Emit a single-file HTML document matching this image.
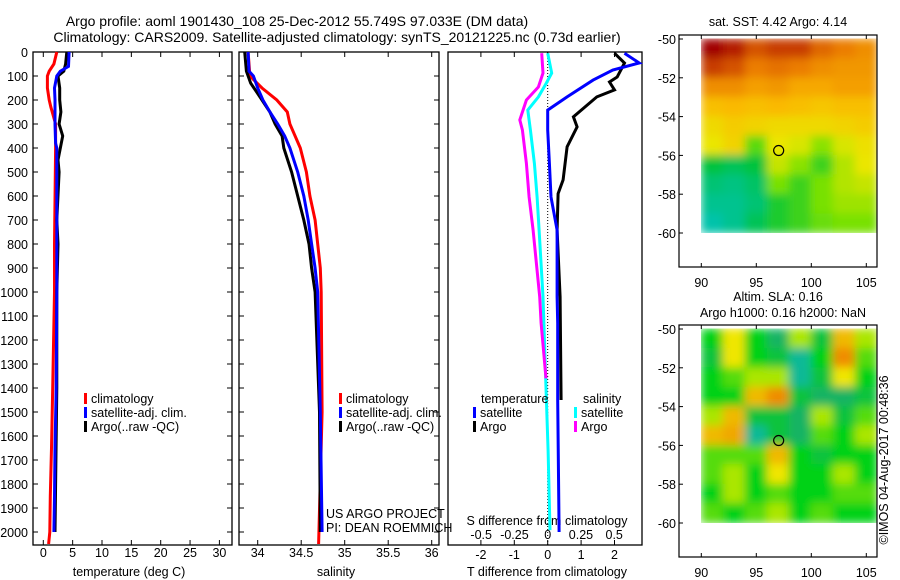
<!DOCTYPE html>
<html><head><meta charset="utf-8"><style>
html,body{margin:0;padding:0;background:#fff}
svg{display:block;font-family:"Liberation Sans",sans-serif;font-size:12.5px}
</style></head><body>
<svg id="s" width="900" height="580" viewBox="0 0 900 580">
<defs>
<filter id="blur" x="0" y="0" width="100%" height="100%"><feGaussianBlur stdDeviation="4.5" edgeMode="duplicate"/></filter>
<clipPath id="c1"><rect x="701" y="35" width="176" height="198"/></clipPath>
<clipPath id="c2"><rect x="701" y="325" width="176" height="198"/></clipPath>
</defs>
<text x="297" y="26" text-anchor="middle" font-size="14">Argo profile: aoml 1901430_108 25-Dec-2012 55.749S 97.033E (DM data)</text>
<text x="337" y="42" text-anchor="middle" font-size="14">Climatology: CARS2009. Satellite-adjusted climatology: synTS_20121225.nc (0.73d earlier)</text>
<g id="g"></g>
</svg>
<script>
// ---------- data ----------
const depthTicks=[0,100,200,300,400,500,600,700,800,900,1000,1100,1200,1300,1400,1500,1600,1700,1800,1900,2000];
const tempTicks=[0,5,10,15,20,25,30];
const salTicks=[34,34.5,35,35.5,36];
const tdTicks=[-2,-1,0,1,2];
const sdTicks=[-0.5,-0.25,0,0.25,0.5];
const tClimDepth=[0,50,80,100,150,200,230,300,400,800,1000,1400,1650,1850,2000,2050];
const tClimVal=[2.3,1.8,1.0,0.7,0.7,1.0,1.3,2.1,2.1,1.9,1.9,1.6,1.4,1.2,1.1,0.9];
const tSatDepth=[0,60,80,100,150,200,300,380,400,1000,1400,1650,1850,2000];
const tSatVal=[4.4,4.3,2.9,2.3,1.9,2.0,2.0,2.1,2.3,2.3,2.2,2.0,1.9,1.8];
const tArgoDepth=[0,50,80,100,150,200,250,300,350,450,500,700,800,1000,1400,2000];
const tArgoVal=[4.0,3.8,3.5,2.5,2.8,2.8,3.0,2.7,3.3,2.5,2.7,2.3,2.5,2.3,2.3,2.0];
const sClimDepth=[0,100,150,200,250,300,400,500,600,700,800,900,1000,1500,2050];
const sClimVal=[33.89,33.91,34.05,34.22,34.34,34.37,34.49,34.56,34.60,34.66,34.69,34.72,34.73,34.74,34.70];
const sSatDepth=[0,80,100,150,200,250,300,350,400,500,600,700,800,900,1000,1500,2000];
const sSatVal=[33.89,33.9,33.95,34.0,34.06,34.14,34.23,34.31,34.37,34.46,34.53,34.58,34.62,34.66,34.69,34.72,34.74];
const sArgoDepth=[0,80,130,200,250,300,350,400,500,600,700,800,900,1000,1500,2000];
const sArgoVal=[33.85,33.87,33.92,34.05,34.14,34.2,34.28,34.3,34.39,34.46,34.53,34.59,34.62,34.66,34.71,34.72];
const dTSatDepth=[5,46,75,117,187,242,325,464,604,742,1020,1130,1450,2000];
const dTSatVal=[2.3,2.74,1.95,1.36,0.58,0.0,0.0,0.05,0.1,0.28,0.28,0.3,0.3,0.34];
const dTArgoDepth=[5,46,104,125,158,187,270,312,395,533,590,742,1020,1450];
const dTArgoVal=[2.0,2.3,2.08,1.85,2.0,1.47,0.77,0.88,0.58,0.46,0.31,0.28,0.37,0.4];
const dSSatDepth=[5,88,129,187,242,325,464,604,742,1020,1450,1660,1992];
const dSSatVal=[0,0.03,-0.01,-0.07,-0.15,-0.13,-0.1,-0.08,-0.065,-0.035,-0.01,0.003,0.017];
const dSArgoDepth=[5,88,146,200,283,325,464,604,742,1020,1130,1360];
const dSArgoVal=[-0.045,-0.035,-0.07,-0.16,-0.21,-0.19,-0.16,-0.14,-0.11,-0.06,-0.05,-0.013];
const lonTicks=[90,95,100,105];
const latTicks=[-50,-52,-54,-56,-58,-60];
const sstGrid=[
[7.2,7.0,6.6,6.8,6.8,6.4,6.2,6.0],
[6.8,6.6,6.2,6.3,6.2,6.0,5.9,5.9],
[6.0,6.0,5.8,5.9,5.7,5.7,5.8,5.8],
[5.4,5.5,5.4,5.5,5.4,5.3,5.4,5.4],
[5.0,5.2,5.1,5.0,5.0,5.0,5.1,5.2],
[4.8,5.1,4.0,4.8,4.7,4.3,4.7,4.9],
[3.4,3.2,3.4,4.6,4.3,3.8,4.5,4.8],
[3.0,2.9,3.1,4.2,3.8,4.2,4.5,4.6],
[2.8,2.8,3.0,3.6,3.8,4.2,4.4,4.4],
[2.6,2.8,3.2,3.6,3.8,4.1,4.2,4.2]];
const slaGrid=[
[0,0.15,0,-0.1,0.1,-0.05,0.2,0.1],
[-0.05,0.15,0,-0.05,-0.15,0,0.25,0.05],
[0,0.05,0.1,0.1,-0.15,-0.05,0.15,0],
[0,0,0.2,0.25,-0.05,-0.1,-0.1,-0.05],
[0.1,0.2,-0.05,-0.05,-0.1,0.1,-0.05,0.05],
[0.2,0.22,-0.15,-0.05,-0.1,0.05,0,0.1],
[0.05,0.05,0.05,0.2,0,-0.05,0,0],
[0.05,0.1,0,0.15,0,0,0.1,0],
[0,0.1,0,0.05,0,0,0.05,0.05],
[0.05,0,0.05,0.1,0,0.05,0,0]];
const floatLon=97.033, floatLat=-55.749;

// ---------- helpers ----------
const NS="http://www.w3.org/2000/svg";
const G=document.getElementById('g');
function el(t,a,p){const e=document.createElementNS(NS,t);for(const k in a)e.setAttribute(k,a[k]);(p||G).appendChild(e);return e;}
function txt(x,y,s,anchor,nm,extra){const e=el('text',Object.assign({x:x,y:y,'text-anchor':anchor||'start'},extra||{}));e.textContent=s;


return e;}
const top0=52,bot0=545;
const yD=d=>52+d*0.24;
const xT=v=>43.3+v*5.87;
const xS=v=>257.7+(v-34)*87;
const xDT=v=>547.7+v*33.4;
const xDS=v=>547.7+v*133;
function frame(x0,x1,nm){const r=el('rect',{x:x0,y:top0,width:x1-x0,height:bot0-top0,fill:'none',stroke:'#000','stroke-width':1.3});

}
function line(depths,vals,fx,col,w,nm){const pts=depths.map((d,i)=>fx(vals[i]).toFixed(1)+','+yD(d).toFixed(1)).join(' ');
const p=el('polyline',{points:pts,fill:'none',stroke:col,'stroke-width':w,'stroke-linejoin':'miter'});

}

const panels=[[33,232,'temperature-panel'],[239,439,'salinity-panel'],[448,642,'difference-panel']];
panels.forEach(p=>{frame(p[0],p[1],p[2]+'-frame');
 depthTicks.forEach(d=>{if(p[2]!=='difference-panel'){el('line',{x1:p[0],x2:p[0]+5,y1:yD(d),y2:yD(d),stroke:'#000'});el('line',{x1:p[1],x2:p[1]-5,y1:yD(d),y2:yD(d),stroke:'#000'});}});
});
depthTicks.forEach(d=>txt(28,yD(d)+5,String(d),'end','depth-tick-label'));
tempTicks.forEach(v=>{const x=xT(v);el('line',{x1:x,x2:x,y1:bot0,y2:bot0-5,stroke:'#000'});el('line',{x1:x,x2:x,y1:top0,y2:top0+5,stroke:'#000'});txt(x,557,String(v),'middle','temperature-tick-label');});
txt(129,576,'temperature (deg C)','middle','x-axis-title-temperature');
salTicks.forEach(v=>{const x=xS(v);el('line',{x1:x,x2:x,y1:bot0,y2:bot0-5,stroke:'#000'});el('line',{x1:x,x2:x,y1:top0,y2:top0+5,stroke:'#000'});txt(x,557,String(v),'middle','salinity-tick-label');});
txt(336,576,'salinity','middle','x-axis-title-salinity');
tdTicks.forEach(v=>{const x=xDT(v);el('line',{x1:x,x2:x,y1:bot0,y2:bot0-5,stroke:'#000'});el('line',{x1:x,x2:x,y1:top0,y2:top0+5,stroke:'#000'});txt(x,559,String(v),'middle','t-diff-tick-label');});
sdTicks.forEach(v=>txt(xDS(v),539,String(v),'middle','s-diff-tick-label'));
txt(547,525,'S difference from climatology','middle','s-diff-axis-title');
txt(547,576,'T difference from climatology','middle','t-diff-axis-title');
el('line',{x1:547.7,x2:547.7,y1:top0,y2:bot0,stroke:'#000','stroke-dasharray':'1,2'});

line(tClimDepth,tClimVal,xT,'#f00',3,'temp-climatology-line');
line(tArgoDepth,tArgoVal,xT,'#000',3,'temp-argo-line');
line(tSatDepth,tSatVal,xT,'#00f',3,'temp-satellite-line');
line(sClimDepth,sClimVal,xS,'#f00',3,'sal-climatology-line');
line(sArgoDepth,sArgoVal,xS,'#000',3,'sal-argo-line');
line(sSatDepth,sSatVal,xS,'#00f',3,'sal-satellite-line');
line(dTArgoDepth,dTArgoVal,xDT,'#000',3,'tdiff-argo-line');
line(dTSatDepth,dTSatVal,xDT,'#00f',3,'tdiff-satellite-line');
line(dSSatDepth,dSSatVal,xDS,'#0ff',3,'sdiff-satellite-line');
line(dSArgoDepth,dSArgoVal,xDS,'#f0f',3,'sdiff-argo-line');

function leg(x,y,col,s,nm){el('rect',{x:x,y:y-10,width:3,height:11,fill:col});txt(x+7,y,s,'start',nm);}
[[84,'temp'],[339,'sal']].forEach(([x,n])=>{leg(x,403,'#f00','climatology',n+'-legend-climatology');leg(x,417,'#00f','satellite-adj. clim.',n+'-legend-satellite');leg(x,431,'#000','Argo(..raw -QC)',n+'-legend-argo');});
txt(481,403,'temperature','start','diff-legend-temperature-header');
leg(473,417,'#00f','satellite','diff-legend-t-satellite');leg(473,431,'#000','Argo','diff-legend-t-argo');
txt(583,403,'salinity','start','diff-legend-salinity-header');
leg(574,417,'#0ff','satellite','diff-legend-s-satellite');leg(574,431,'#f0f','Argo','diff-legend-s-argo');
txt(326,518,'US ARGO PROJECT','start','project-label');
txt(326,532,'PI: DEAN ROEMMICH','start','pi-label');

function interp(stops,v){if(v<=stops[0][0])return stops[0][1];for(let i=1;i<stops.length;i++){if(v<=stops[i][0]){const a=stops[i-1],b=stops[i],t=(v-a[0])/(b[0]-a[0]);return 'rgb('+a[1].map((c,k)=>Math.round(c+(b[1][k]-c)*t)).join(',')+')';}}return 'rgb('+stops[stops.length-1][1].join(',')+')';}
const sstStops=[[2.6,[0,195,170]],[3.4,[0,195,60]],[4.2,[120,225,0]],[4.8,[235,230,0]],[5.5,[250,185,0]],[6.2,[235,125,0]],[6.8,[200,60,0]],[7.2,[160,0,0]]];
const slaStops=[[-0.2,[0,190,200]],[-0.1,[20,180,100]],[0,[0,210,20]],[0.1,[170,230,0]],[0.15,[240,230,0]],[0.25,[240,140,0]]];
function fix(s){return typeof s==='string'?s:'rgb('+s.join(',')+')';}
function map(yTop,grid,stops,nm,clip){
 const fx=lon=>701.3+(lon-90)*11, fy=lat=>yTop+4+(-50-lat)*19.4;
 const g=el('g',{'clip-path':'url(#'+clip+')'});
 
 
 const inner=el('g',{filter:'url(#blur)'},g);
 grid.forEach((row,r)=>row.forEach((v,c)=>{const cell=el('rect',{x:fx(90+c*2)-0.5,y:fy(-50-r)-0.5,width:23,height:20.4,fill:fix(interp(stops,v))},inner);
 
 }));
 const f=el('rect',{x:679,y:yTop,width:198,height:232,fill:'none',stroke:'#000','stroke-width':1.2});
 
 
 lonTicks.forEach(v=>{const x=fx(v);el('line',{x1:x,x2:x,y1:yTop,y2:yTop+4,stroke:'#000'});el('line',{x1:x,x2:x,y1:yTop+232,y2:yTop+228,stroke:'#000'});txt(x,yTop+252,String(v),'middle',nm+'-lon-label');});
 latTicks.forEach(v=>{const y=fy(v);el('line',{x1:679,x2:683,y1:y,y2:y,stroke:'#000'});txt(676,y+5,String(v),'end',nm+'-lat-label');});
 const c=el('circle',{cx:fx(floatLon),cy:fy(floatLat),r:5,fill:'none',stroke:'#000','stroke-width':1.2});
 
 
}
map(35,sstGrid,sstStops,'sst-map','c1');
map(325,slaGrid,slaStops,'sla-map','c2');
txt(778,26,'sat. SST: 4.42 Argo: 4.14','middle','sst-map-title');
txt(778,301,'Altim. SLA: 0.16','middle','sla-map-title');
txt(783,317,'Argo h1000: 0.16 h2000: NaN','middle','sla-map-subtitle');
txt(0,0,'\u00A9IMOS 04-Aug-2017 00:48:36','middle','timestamp-credit',{transform:'translate(888,460) rotate(-90)'});
</script>
</body></html>
